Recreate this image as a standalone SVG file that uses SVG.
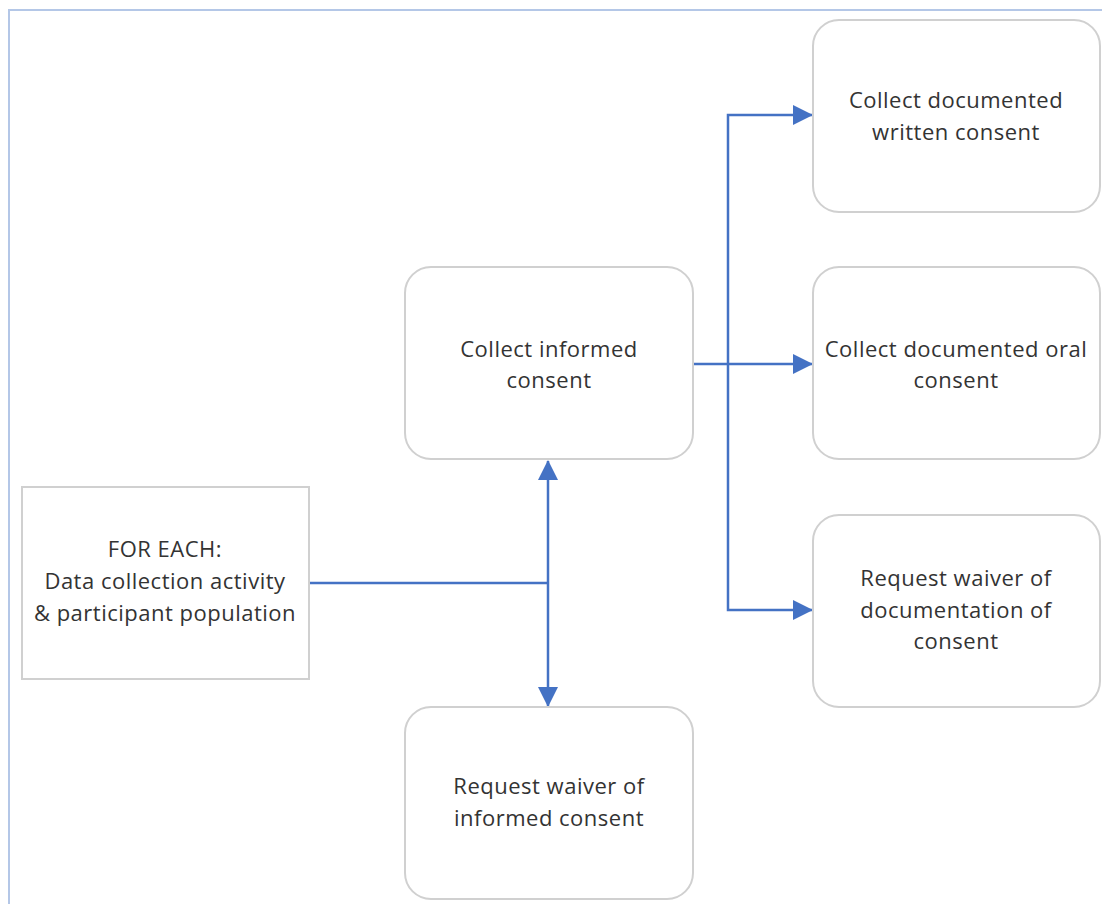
<svg xmlns="http://www.w3.org/2000/svg" width="1102" height="904" viewBox="0 0 1102 904">
<defs>
<style>
.frame{fill:none;stroke:#b4c7e7;stroke-width:2}
.box{fill:#fff;stroke:#d0d0d0;stroke-width:2}
.t{font-family:"Open Sans","Noto Sans",sans-serif;font-size:22px;letter-spacing:0.5px;fill:#333;text-anchor:middle}
.c{fill:none;stroke:#4472c4;stroke-width:2.5}
</style>
<marker id="ah" markerWidth="8" markerHeight="8" refX="7.6" refY="4" orient="auto" markerUnits="strokeWidth" viewBox="0 0 8 8">
<path d="M0,0 L8,4 L0,8 Z" fill="#4472c4"/>
</marker>
</defs>
<rect width="1102" height="904" fill="#fff"/>
<path class="frame" d="M9,905 V10 H1103"/>
<g id="connectors">
<path class="c" d="M309,583 H548"/>
<path class="c" d="M548,583 V461" marker-end="url(#ah)"/>
<path class="c" d="M548,583 V706" marker-end="url(#ah)"/>
<path class="c" d="M693,364 H812" marker-end="url(#ah)"/>
<path class="c" d="M728,364 V115 H812" marker-end="url(#ah)"/>
<path class="c" d="M728,364 V610 H812" marker-end="url(#ah)"/>
</g>
<g id="n-foreach">
<rect class="box" x="22" y="487" width="287" height="192"/>
<text class="t" x="165" y="557">FOR EACH:</text>
<text class="t" x="165" y="589">Data collection activity</text>
<text class="t" x="165" y="621">&amp; participant population</text>
</g>
<g id="n-informed">
<rect class="box" x="405" y="267" width="288" height="192" rx="26"/>
<text class="t" x="549" y="357">Collect informed</text>
<text class="t" x="549" y="388">consent</text>
</g>
<g id="n-waiver-informed">
<rect class="box" x="405" y="707" width="288" height="192" rx="26"/>
<text class="t" x="549" y="794">Request waiver of</text>
<text class="t" x="549" y="826">informed consent</text>
</g>
<g id="n-written">
<rect class="box" x="813" y="20" width="287" height="192" rx="26"/>
<text class="t" x="956" y="108">Collect documented</text>
<text class="t" x="956" y="140">written consent</text>
</g>
<g id="n-oral">
<rect class="box" x="813" y="267" width="287" height="192" rx="26"/>
<text class="t" x="956" y="357">Collect documented oral</text>
<text class="t" x="956" y="388">consent</text>
</g>
<g id="n-waiver-doc">
<rect class="box" x="813" y="515" width="287" height="192" rx="26"/>
<text class="t" x="956" y="586">Request waiver of</text>
<text class="t" x="956" y="618">documentation of</text>
<text class="t" x="956" y="649">consent</text>
</g>
</svg>
